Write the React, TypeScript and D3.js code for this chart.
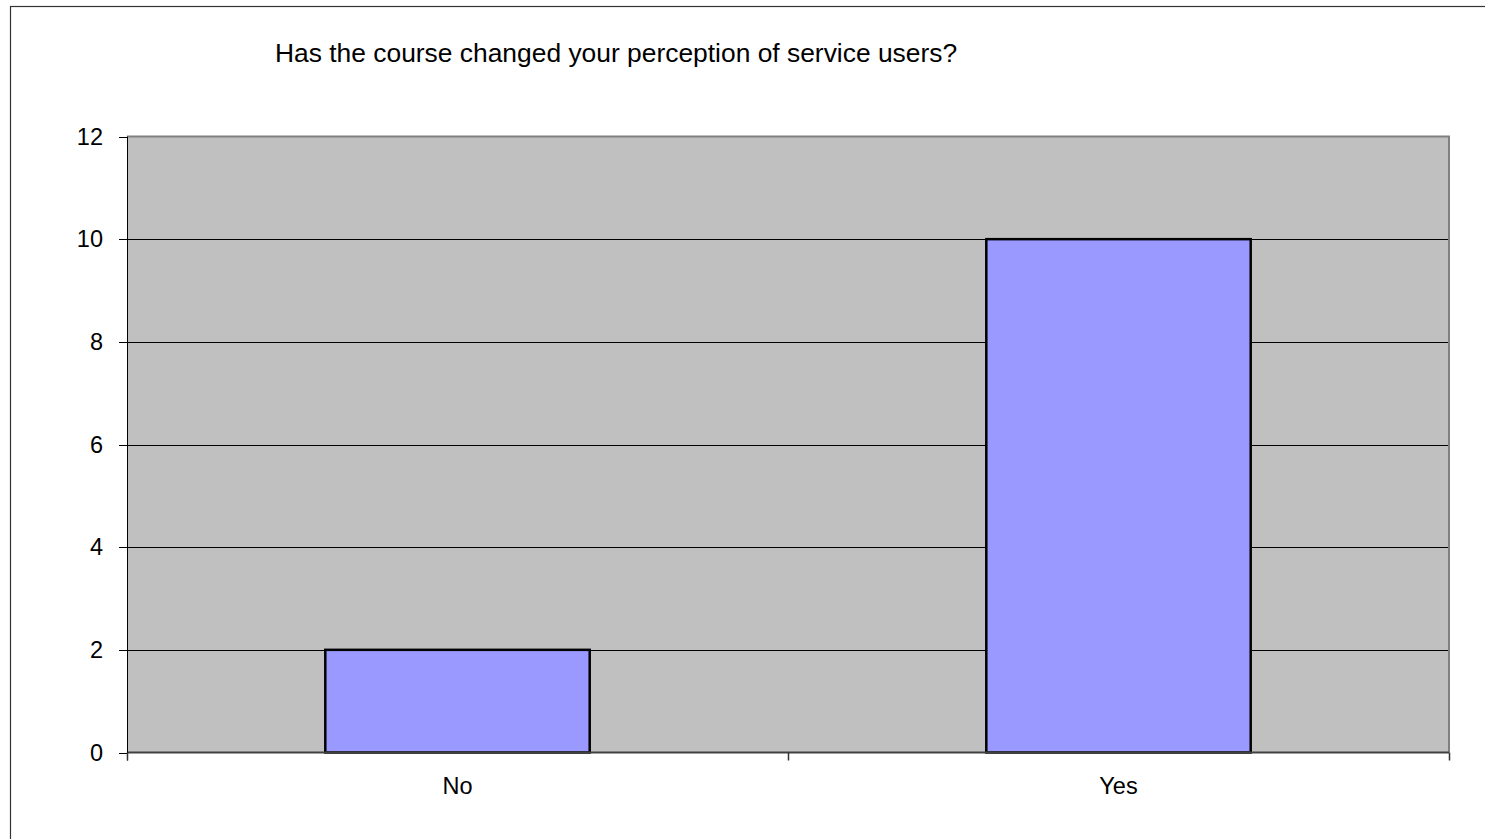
import React from 'react';
import * as d3 from 'd3';

const categories = ['No', 'Yes'];
const values = [2, 10];
const yTicks = [0, 2, 4, 6, 8, 10, 12];
const title = 'Has the course changed your perception of service users?';

const W = 1485;
const H = 839;
const plot = { left: 127, right: 1449, top: 136.5, bottom: 752.5 };

export default function App() {
  const x = d3.scaleBand<string>().domain(categories).range([plot.left, plot.right]).paddingInner(0.6).paddingOuter(0.3);
  const y = d3.scaleLinear().domain([0, 12]).range([plot.bottom, plot.top]);
  const step = x.step();
  const boundaries = d3.range(categories.length + 1).map((i) => plot.left + i * step);
  const font = 'Liberation Sans, Arial, sans-serif';
  return (
    <svg width={W} height={H} style={{ position: 'absolute', left: 0, top: 0, display: 'block' }}>
      <rect x={0} y={0} width={W} height={H} fill="#fff" />
      <rect x={10.5} y={6.5} width={W + 20} height={H + 20} fill="none" stroke="#333" strokeWidth={1.2} />
      <text x={275} y={62} fontFamily={font} fontSize={26.4} fill="#000">{title}</text>
      <rect x={plot.left} y={plot.top} width={plot.right - plot.left} height={plot.bottom - plot.top} fill="#C0C0C0" />
      {yTicks.filter((t) => t > 0 && t < 12).map((t) => (
        <line key={'g' + t} x1={plot.left} x2={plot.right} y1={Math.round(y(t)) + 0.5} y2={Math.round(y(t)) + 0.5} stroke="#000" strokeWidth={1} />
      ))}
      <line x1={plot.left} x2={plot.right + 1} y1={plot.top} y2={plot.top} stroke="#808080" strokeWidth={2} />
      <line x1={plot.right} x2={plot.right} y1={plot.top} y2={plot.bottom} stroke="#808080" strokeWidth={2} />
      {categories.map((c, i) => (
        <rect key={c} x={x(c)!} y={y(values[i])} width={x.bandwidth()} height={y(0) - y(values[i])} fill="#9999FF" stroke="#000" strokeWidth={2.5} />
      ))}
      <line x1={plot.left} x2={plot.right} y1={plot.bottom} y2={plot.bottom} stroke="#404040" strokeWidth={2} />
      <line x1={plot.left + 0.5} x2={plot.left + 0.5} y1={plot.top} y2={plot.bottom + 8} stroke="#000" strokeWidth={1} />
      {yTicks.map((t) => (
        <g key={'t' + t}>
          <line x1={plot.left - 8} x2={plot.left} y1={Math.round(y(t)) + 0.5} y2={Math.round(y(t)) + 0.5} stroke="#000" strokeWidth={1} />
          <text x={plot.left - 24} y={y(t)} dy="0.35em" textAnchor="end" fontFamily={font} fontSize={23.5} fill="#000">{t}</text>
        </g>
      ))}
      {boundaries.map((b, i) => (
        <line key={'xb' + i} x1={Math.round(b) + 0.5} x2={Math.round(b) + 0.5} y1={plot.bottom} y2={plot.bottom + 8} stroke="#333" strokeWidth={1.5} />
      ))}
      {categories.map((c) => (
        <text key={'l' + c} x={x(c)! + x.bandwidth() / 2} y={794} textAnchor="middle" fontFamily={font} fontSize={23.5} fill="#000">{c}</text>
      ))}
    </svg>
  );
}
